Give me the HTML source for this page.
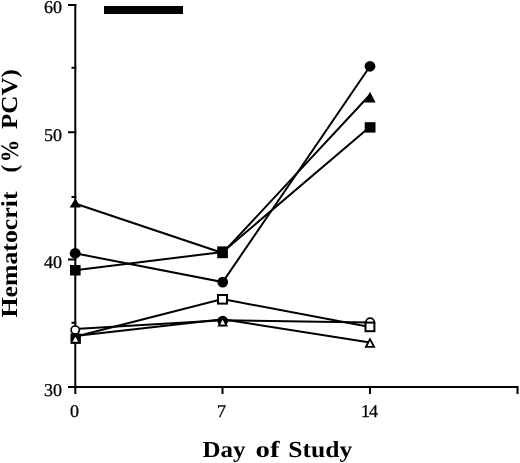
<!DOCTYPE html>
<html><head><meta charset="utf-8">
<style>
html,body{margin:0;padding:0;background:#fff;}
body{width:520px;height:463px;overflow:hidden;}
svg{display:block;will-change:transform;}
text{font-family:"Liberation Serif",serif;fill:#000;text-rendering:geometricPrecision;}
.b{font-weight:bold;}
</style></head>
<body>
<svg width="520" height="463" viewBox="0 0 520 463">
<g stroke="#000" stroke-width="2" fill="none" stroke-linecap="butt">
  <!-- y axis -->
  <path d="M75.3 4 V394"/>
  <path d="M68 5 H76.3 M68 132.3 H76.3 M68 259.5 H76.3 M68 387 H76.3"/>
  <path d="M71.5 67.8 H76.3 M71.5 197 H76.3 M71.5 322.8 H76.3"/>
  <!-- x axis -->
  <path d="M68 387 H518.5"/>
  <path d="M222.5 387 V394 M370 387 V394 M517.5 387 V394"/>
</g>
<!-- bar -->
<rect x="104" y="6" width="79" height="8" fill="#000"/>
<!-- tick labels -->
<g font-size="18" stroke="#000" stroke-width="0.3">
  <text x="62" y="13" text-anchor="end">60</text>
  <text x="62" y="140.5" text-anchor="end">50</text>
  <text x="62" y="267.6" text-anchor="end">40</text>
  <text x="62" y="395.5" text-anchor="end">30</text>
  <text x="74.5" y="417" text-anchor="middle">0</text>
  <text x="221.5" y="417" text-anchor="middle">7</text>
  <text x="369" y="417" text-anchor="middle" letter-spacing="-1">14</text>
</g>
<!-- axis titles -->
<g class="b" font-size="23">
<text x="202.5" y="457.4" textLength="43" lengthAdjust="spacingAndGlyphs">Day</text>
<text x="255.5" y="457.4" textLength="24" lengthAdjust="spacingAndGlyphs">of</text>
<text x="288.2" y="457.4" textLength="64" lengthAdjust="spacingAndGlyphs">Study</text>
</g>
<g class="b" font-size="23" transform="translate(17,317) rotate(-90)">
  <text x="-0.5" y="0" textLength="126" lengthAdjust="spacingAndGlyphs">Hematocrit</text>
  <text x="144.6" y="0" textLength="7.8" lengthAdjust="spacingAndGlyphs">(</text>
  <text x="154.8" y="0.8" font-size="25" textLength="22.5" lengthAdjust="spacingAndGlyphs">%</text>
  <text x="188" y="0" textLength="60" lengthAdjust="spacingAndGlyphs">PCV)</text>
</g>
<!-- lines -->
<g stroke="#000" stroke-width="2" fill="none">
  <polyline points="75,253.3 222.7,282.1 370,66.3"/>
  <polyline points="75,203.5 222.7,253 370,94.7"/>
  <polyline points="75,270.2 222.7,252 370,126.8"/>
  <polyline points="75,329.1 222.7,320.2 370,322.4"/>
  <polyline points="75,336.7 222.5,299.1 370,327"/>
  <polyline points="75,335.9 222.7,319.3 370,342.5"/>
</g>
<!-- markers filled -->
<g fill="#000">
  <circle cx="75.2" cy="253.3" r="5.4"/>
  <circle cx="222.7" cy="282.1" r="5.4"/>
  <circle cx="370" cy="66.3" r="5.4"/>
  <path d="M75.3 198.3 L80.9 207.5 H69.7 Z"/>
  <path d="M370 91.8 L375.6 102.4 H364.4 Z"/>
  <rect x="70" y="265" width="10.6" height="10.5"/>
  <rect x="217.2" y="246.4" width="10.7" height="11.8"/>
  <rect x="364.7" y="122.2" width="10.8" height="10.4"/>
</g>
<!-- open markers -->
<circle cx="75.25" cy="330.1" r="4.1" fill="#fff" stroke="#000" stroke-width="1.7"/>
<rect x="70.5" y="333.5" width="10.4" height="10.4" fill="#000"/>
<path d="M75.4 336.8 L78.2 341.8 H72.6 Z" fill="#fff"/>
<rect x="218" y="295" width="9" height="8.6" fill="#fff" stroke="#000" stroke-width="2"/>
<circle cx="222.7" cy="321" r="5.3" fill="#000"/>
<path d="M222.7 316 L228 326.5 H217.4 Z" fill="#000"/>
<path d="M222.6 319.6 L225 324.6 H220.3 Z" fill="#fff"/>
<circle cx="370.1" cy="322.4" r="4.2" fill="#fff" stroke="#000" stroke-width="1.8"/>
<rect x="365.5" y="322.6" width="8.9" height="8.6" fill="#fff" stroke="#000" stroke-width="2"/>
<path d="M370 337.2 L375.6 347.7 H364.4 Z" fill="#000"/>
<path d="M370 341 L372.5 346 H367.5 Z" fill="#fff"/>
</svg>
</body></html>
